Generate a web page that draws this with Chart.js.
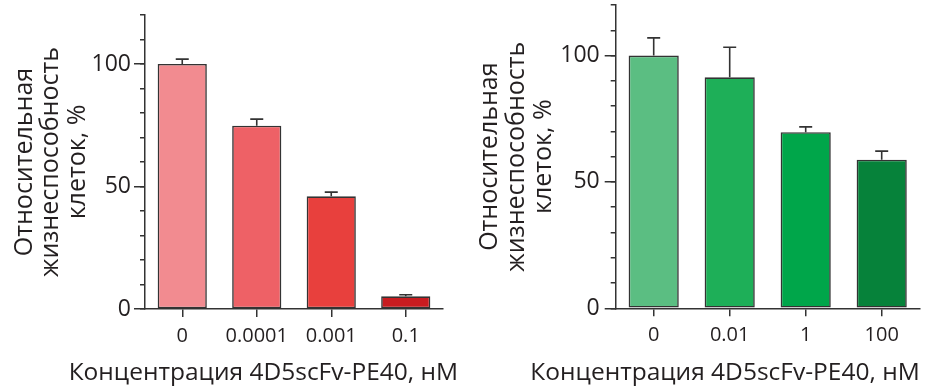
<!DOCTYPE html>
<html>
<head>
<meta charset="utf-8">
<script src="https://cdn.jsdelivr.net/npm/chart.js@4"></script>
<style>
  body { margin: 0; background: #fff; width: 926px; height: 387px; position: relative; overflow: hidden; }
  canvas { position: absolute; top: 0; }
  #left { left: 0; }
  #right { left: 463px; }
</style>
</head>
<body>
<canvas id="left" width="463" height="387"></canvas>
<canvas id="right" width="463" height="387"></canvas>
<script>
/* DATA */
const leftLabels = ["0", "0.0001", "0.001", "0.1"]
const leftValues = [100, 74.8, 46, 5.2]
const leftErrors = [2, 2.7, 1.7, 0.6]

const rightLabels = ["0", "0.01", "1", "100"]
const rightValues = [100, 91.4, 69.7, 58.8]
const rightErrors = [7, 11.9, 2.1, 3.4]

const yMajorTicks = [0, 50, 100]
const yTitle = ["Относительная", "жизнеспособность", "клеток, %"]
const xTitle = "Концентрация 4D5scFv-PE40, нМ"

/* STYLES */
const leftColors = ["#F28B90", "#EE6166", "#E8403D", "#C81C20"]
const rightColors = ["#5BBE82", "#1EAF58", "#00A64A", "#06823A"]
const ink = "#231F20"
const lineInk = "#333333"
const fontFam = "'Open Sans', 'Noto Sans', sans-serif"

/* error bars, drawn from the bar data through the y scale */
const errorBars = {
  id: "errorBars",
  afterDatasetsDraw(chart, args, opts) {
    const ctx = chart.ctx
    const meta = chart.getDatasetMeta(0)
    const y = chart.scales.y
    const values = chart.data.datasets[0].data
    ctx.save()
    ctx.strokeStyle = lineInk
    ctx.lineWidth = 1.6
    meta.data.forEach((bar, i) => {
      const base = y.getPixelForValue(values[i])
      const top = y.getPixelForValue(values[i] + opts.errors[i])
      ctx.beginPath()
      ctx.moveTo(bar.x, base)
      ctx.lineTo(bar.x, top)
      ctx.moveTo(bar.x - 6.5, top)
      ctx.lineTo(bar.x + 6.5, top)
      ctx.stroke()
    })
    ctx.restore()
  }
}

function makeChart(id, s) {
  const scales = {
    x: {
      offset: true,
      grid: { offset: false, drawOnChartArea: false, drawTicks: true, tickLength: 8, color: lineInk, lineWidth: 1.5 },
      border: { display: true, color: lineInk, width: 1.5 },
      ticks: { color: ink, font: { family: fontFam, size: 20 }, padding: 7, maxRotation: 0, autoSkip: false },
      afterFit: (sc) => { sc.height = s.xHeight }
    },
    y: {
      position: "left", weight: 1, min: 0, max: 120,
      afterBuildTicks: (sc) => { sc.ticks = yMajorTicks.map(v => ({ value: v })) },
      grid: { drawOnChartArea: false, drawTicks: true, tickLength: 11, color: lineInk, lineWidth: 1.5 },
      border: { display: false },
      ticks: { color: ink, font: { family: fontFam, size: 23 }, padding: s.yTickPad },
      title: {
        display: true, text: yTitle, color: ink,
        font: { family: fontFam, size: 25, lineHeight: 1.07 },
        padding: { top: s.yTitlePad, bottom: 0 }
      },
      afterFit: (sc) => { sc.width = s.yWidth; sc.paddingTop = 0; sc.paddingBottom = 0 }
    },
    yMinor: {
      position: "left", weight: 0, min: 0, max: 120,
      ticks: { display: false, stepSize: 10 },
      grid: { drawOnChartArea: false, drawTicks: true, tickLength: 5, color: lineInk, lineWidth: 1.5 },
      border: { display: true, color: lineInk, width: 1.5 },
      afterFit: (sc) => { sc.width = 0; sc.paddingTop = 0; sc.paddingBottom = 0 }
    }
  }
  if (s.rightSpace) {
    scales.yPad = {
      position: "right", display: true,
      grid: { display: false }, border: { display: false }, ticks: { display: false },
      afterFit: (sc) => { sc.width = s.rightSpace }
    }
  }
  return new Chart(document.getElementById(id), {
    type: "bar",
    data: {
      labels: s.labels,
      datasets: [{
        data: s.values,
        backgroundColor: s.colors,
        borderColor: lineInk,
        borderWidth: 1.6,
        borderSkipped: false,
        barPercentage: 0.66,
        categoryPercentage: 1
      }]
    },
    options: {
      responsive: false,
      animation: false,
      events: [],
      layout: { padding: { top: s.top, left: 0, right: s.right, bottom: 0 } },
      scales,
      plugins: {
        legend: { display: false },
        tooltip: { enabled: false },
        title: {
          display: true, text: xTitle, position: "bottom", align: "end",
          color: ink, font: { family: fontFam, size: 24.5, weight: "normal", lineHeight: 1.15 },
          padding: 0
        },
        errorBars: { errors: s.errors }
      }
    },
    plugins: [errorBars]
  })
}

makeChart("left", {
  labels: leftLabels, values: leftValues, errors: leftErrors, colors: leftColors,
  top: 15, right: 5, rightSpace: 15, yWidth: 145, xHeight: 49.8,
  yTickPad: 3, yTitlePad: 11
})

makeChart("right", {
  labels: rightLabels, values: rightValues, errors: rightErrors, colors: rightColors,
  top: 5, right: 6.3, rightSpace: 0, yWidth: 152.7, xHeight: 50.5,
  yTickPad: 5, yTitlePad: 13.5
})
</script>
</body>
</html>
